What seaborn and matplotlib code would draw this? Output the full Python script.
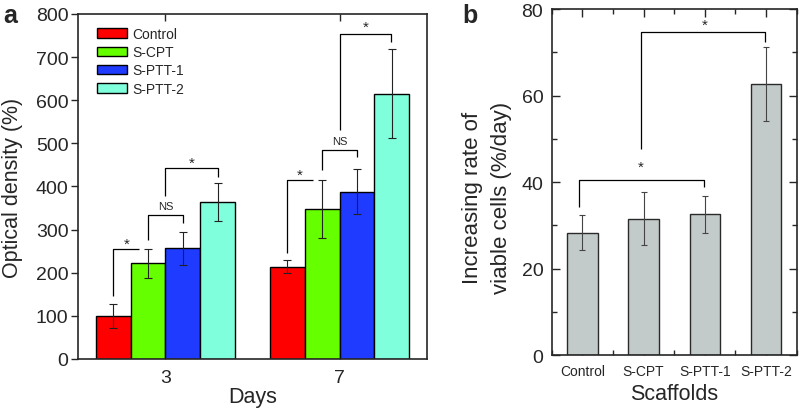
import numpy as np
import pandas as pd
import matplotlib
matplotlib.use("Agg")
import matplotlib.pyplot as plt
from matplotlib.ticker import MultipleLocator
import seaborn as sns

# panel a: optical density per day and scaffold
days = ["3", "7"]
groups = ["Control", "S-CPT", "S-PTT-1", "S-PTT-2"]
od_mean = {
    "Control": [100, 214],
    "S-CPT": [222, 348],
    "S-PTT-1": [257, 388],
    "S-PTT-2": [363, 615],
}
od_err = {
    "Control": [28, 15],
    "S-CPT": [34, 68],
    "S-PTT-1": [38, 52],
    "S-PTT-2": [44, 103],
}
group_colors = ["#FF0000", "#66FF00", "#1F3BFF", "#7FFFDB"]

# panel b: increasing rate of viable cells
scaffolds = ["Control", "S-CPT", "S-PTT-1", "S-PTT-2"]
rate_mean = [28.3, 31.6, 32.6, 62.7]
rate_err = [4.0, 6.2, 4.3, 8.5]

sns.set_style("ticks")
plt.rcParams["font.family"] = ["Liberation Sans", "DejaVu Sans"]

fig = plt.figure(figsize=(8, 4.1), dpi=100)
ax1 = fig.add_axes([0.0979, 0.122, 0.4355, 0.8415])
ax2 = fig.add_axes([0.6896, 0.131, 0.3063, 0.8445])

# ---- panel a
df_od = pd.DataFrame(
    [(d, g, od_mean[g][i]) for g in groups for i, d in enumerate(days)],
    columns=["day", "group", "value"],
)
sns.barplot(data=df_od, x="day", y="value", hue="group", order=days, hue_order=groups,
            palette=group_colors, saturation=1, errorbar=None, width=0.8,
            edgecolor="black", linewidth=1, ax=ax1)

for cont, g in zip(ax1.containers, groups):
    xs = [b.get_x() + b.get_width() / 2 for b in cont]
    ax1.errorbar(xs, od_mean[g], yerr=od_err[g], fmt="none", ecolor="#222222",
                 elinewidth=0.8, capsize=3.2, capthick=0.8)


def bracket(ax, pts, label, lx, ly, size):
    xs, ys = zip(*pts)
    ax.plot(xs, ys, color="black", lw=0.9, solid_capstyle="butt")
    ax.text(lx, ly, label, ha="center", va="center", fontsize=size)


bracket(ax1, [(-0.3, 146), (-0.3, 256), (-0.153, 256)], "*", -0.22, 268, 11)
bracket(ax1, [(-0.1, 277), (-0.1, 335), (0.1, 335), (0.1, 315)], "NS", 0.0, 354, 8)
bracket(ax1, [(0.0, 377), (0.0, 442), (0.304, 442), (0.304, 423)], "*", 0.15, 455, 11)
bracket(ax1, [(0.7, 246), (0.7, 416), (0.847, 416)], "*", 0.77, 428, 11)
bracket(ax1, [(0.9, 439), (0.9, 485), (1.1, 485), (1.1, 469)], "NS", 1.0, 505, 8)
bracket(ax1, [(1.0, 531), (1.0, 754), (1.295, 754), (1.295, 735)], "*", 1.15, 771, 11)

ax1.set_xlim(-0.5, 1.5)
ax1.set_ylim(0, 800)
ax1.yaxis.set_major_locator(MultipleLocator(100))
ax1.tick_params(axis="y", direction="out", length=5, width=1, labelsize=14, pad=2)
ax1.tick_params(axis="x", direction="in", length=5, width=1, top=True, labelsize=14, pad=7)
ax1.set_xlabel("Days", fontsize=15.5, labelpad=0)
ax1.set_ylabel("Optical density (%)", fontsize=15.5)
ax1.yaxis.set_label_coords(-0.16, 0.5)
for s in ax1.spines.values():
    s.set_linewidth(1.2)
    s.set_visible(True)

ax1.legend(loc="upper left", bbox_to_anchor=(0.025, 0.99), frameon=False, fontsize=10,
           handlelength=2.2, handleheight=0.7, handletextpad=0.35, labelspacing=0.3,
           borderpad=0.2)

# ---- panel b
df_rate = pd.DataFrame({"scaffold": scaffolds, "rate": rate_mean})
sns.barplot(data=df_rate, x="scaffold", y="rate", order=scaffolds, color="#C3CBCA",
            saturation=1, errorbar=None, width=0.5, edgecolor="#2a2a2a", linewidth=1, ax=ax2)
xs = [b.get_x() + b.get_width() / 2 for b in ax2.containers[0]]
ax2.errorbar(xs, rate_mean, yerr=rate_err, fmt="none", ecolor="#444444",
             elinewidth=0.8, capsize=2.2, capthick=0.8)

bracket(ax2, [(-0.055, 34.2), (-0.055, 40.4), (1.98, 40.4), (1.98, 38.9)], "*", 0.95, 43.5, 11)
bracket(ax2, [(0.95, 47.7), (0.95, 74.6), (2.98, 74.6), (2.98, 72.3)], "*", 2.0, 76.3, 11)

ax2.set_xlim(-0.5, 3.5)
ax2.set_ylim(0, 80)
ax2.yaxis.set_major_locator(MultipleLocator(20))
ax2.yaxis.set_minor_locator(MultipleLocator(10))
ax2.xaxis.set_minor_locator(MultipleLocator(0.5))
ax2.tick_params(which="major", direction="in", length=6, width=1, top=True, right=True)
ax2.tick_params(which="minor", direction="in", length=3.5, width=1, top=True, right=True)
ax2.tick_params(axis="y", labelsize=14, pad=6)
ax2.tick_params(axis="x", labelsize=10, pad=6)
ax2.set_xlabel("Scaffolds", fontsize=15.5, labelpad=4)
ax2.set_ylabel("Increasing rate of\nviable cells (%/day)", fontsize=16, linespacing=1.55)
ax2.yaxis.set_label_coords(-0.16, 0.457)
for s in ax2.spines.values():
    s.set_linewidth(1.2)
    s.set_visible(True)

fig.text(0.004, 0.962, "a", fontsize=18, fontweight="bold", va="center")
fig.text(0.578, 0.962, "b", fontsize=18, fontweight="bold", va="center")

fig.savefig("out.png", dpi=100)
